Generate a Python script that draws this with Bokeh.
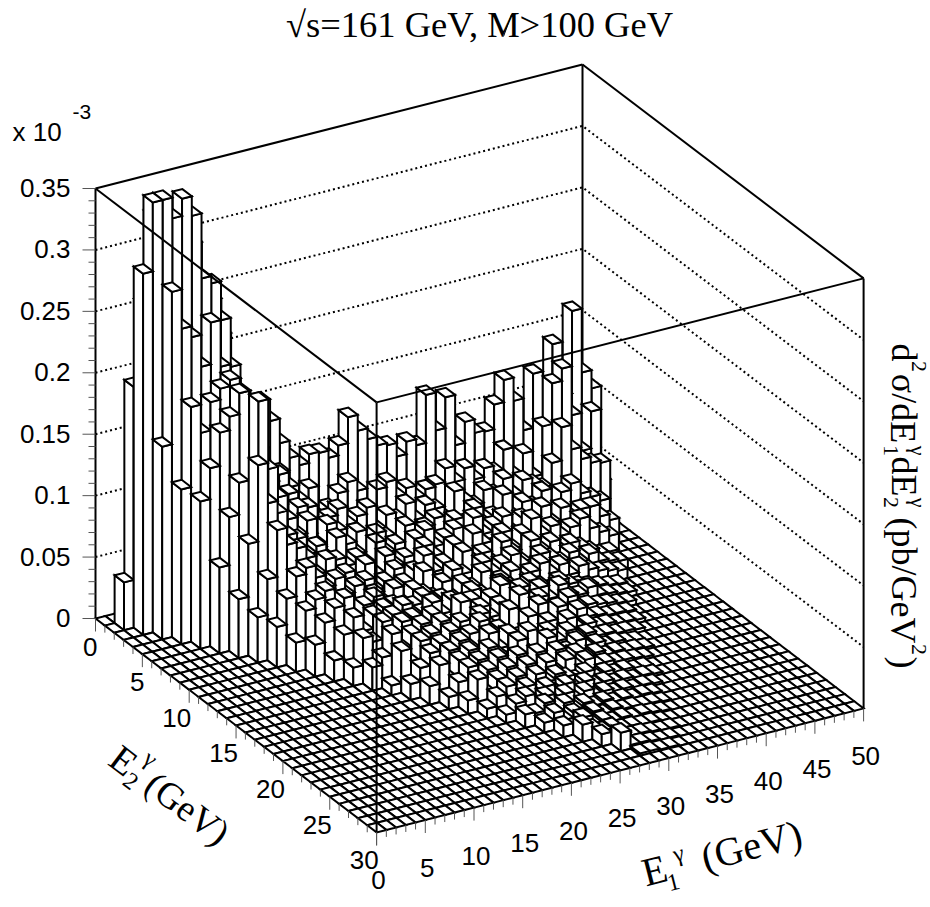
from bokeh.plotting import figure
from bokeh.models import Range1d
from bokeh.core.properties import value
from bokeh.embed import file_html
from bokeh.resources import INLINE

# d2sigma/dE1dE2 in units of 1e-3 pb/GeV^2; each row is one E2 bin (1 GeV wide), first entry is at E1 = E2
E2_01 = [.039,.196,.260,.330,.330,.330,.300,.300,.260,.250,.220,.181,.169,.155,.158,.140,.120,.106,.098,.105,.104,.098,.106,.127,.114,.105,.098,.096,.085,.095,.090,.129,.098,.123,.082,.099,.088,.087,.107,.125,.106,.080,.124,.110,.144,.100,.167,.115,.100]
E2_02 = [.294,.350,.350,.333,.347,.331,.278,.272,.240,.200,.170,.150,.116,.093,.104,.090,.077,.085,.059,.065,.075,.082,.073,.050,.070,.074,.060,.065,.055,.060,.062,.073,.060,.069,.058,.065,.060,.076,.053,.069,.048,.087,.120,.130,.090,.059,.089,.030]
E2_03 = [.157,.281,.249,.240,.214,.248,.210,.190,.170,.150,.125,.105,.110,.085,.075,.070,.060,.065,.070,.055,.060,.065,.045,.055,.050,.060,.045,.055,.050,.040,.060,.050,.045,.055,.050,.060,.045,.055,.050,.045,.063,.090,.070,.060,.055,.053]
E2_04 = [.126,.191,.168,.191,.200,.205,.170,.150,.120,.105,.090,.100,.070,.085,.060,.050,.060,.045,.055,.040,.050,.045,.035,.050,.040,.045,.050,.035,.045,.040,.050,.035,.040,.055,.035,.045,.040,.050,.030,.045,.050,.040,.035,.030]
E2_05 = [.120,.145,.172,.183,.200,.187,.150,.125,.100,.085,.095,.070,.060,.075,.050,.055,.045,.035,.050,.040,.045,.030,.045,.050,.035,.040,.045,.030,.050,.035,.040,.045,.030,.040,.035,.045,.030,.040,.030,.035,.035,.025,.020]
E2_06 = [.070,.109,.135,.108,.197,.140,.115,.095,.080,.090,.065,.055,.070,.045,.050,.040,.030,.045,.035,.040,.030,.045,.035,.025,.040,.030,.045,.035,.030,.040,.025,.035,.045,.030,.035,.025,.030,.035,.025,.020,.015]
E2_07 = [.048,.091,.153,.120,.110,.090,.085,.070,.075,.055,.060,.045,.035,.050,.040,.030,.040,.025,.035,.045,.030,.035,.025,.040,.030,.035,.025,.040,.030,.020,.035,.025,.030,.020,.025,.020,.015,.010,.010]
E2_08 = [.037,.066,.104,.090,.085,.075,.060,.070,.050,.055,.040,.045,.035,.040,.030,.035,.025,.040,.030,.025,.035,.030,.020,.035,.025,.030,.035,.025,.020,.030,.025,.020,.025,.015,.020,.012,.010,.008]
E2_09 = [.033,.054,.070,.075,.065,.055,.060,.045,.050,.035,.040,.030,.040,.025,.035,.030,.025,.035,.020,.030,.025,.035,.020,.025,.030,.020,.025,.030,.020,.025,.015,.020,.015,.012,.010,.008]
E2_10 = [.024,.048,.055,.060,.045,.050,.040,.035,.045,.030,.035,.025,.030,.035,.020,.030,.025,.020,.030,.025,.020,.030,.025,.018,.025,.020,.015,.020,.015,.012,.010,.008,.006,.005]
E2_11 = [.026,.042,.052,.058,.040,.048,.034,.042,.026,.040,.030,.022,.036,.025,.034,.020,.030,.018,.028,.036,.020,.030,.018,.026,.015,.024,.014,.012,.016,.008,.007,.005,.004]
E2_12 = [.017,.036,.048,.035,.046,.030,.042,.025,.036,.020,.034,.025,.020,.038,.018,.030,.020,.028,.016,.032,.015,.026,.015,.012,.020,.010,.010,.008,.007,.005,.004]
E2_13 = [.015,.037,.032,.046,.028,.042,.025,.036,.020,.034,.022,.030,.016,.032,.020,.016,.030,.018,.014,.028,.012,.022,.010,.016,.008,.007,.005,.005,.004]
E2_14 = [.019,.025,.042,.028,.038,.020,.034,.020,.032,.016,.026,.034,.016,.024,.018,.014,.028,.012,.020,.010,.018,.008,.010,.006,.006,.004,.004,.003]
E2_15 = [.008,.034,.022,.038,.020,.032,.018,.030,.022,.015,.030,.016,.026,.014,.024,.012,.020,.010,.016,.008,.010,.006,.006,.004,.004,.003]
E2_16 = [.013,.024,.034,.018,.032,.016,.028,.014,.026,.018,.012,.026,.014,.010,.022,.010,.008,.014,.006,.008,.004,.005,.003,.002]
E2_17 = [.015,.030,.016,.030,.014,.026,.012,.024,.014,.022,.010,.020,.008,.018,.008,.012,.006,.008,.004,.005,.003,.003,.002]
E2_18 = [.010,.020,.030,.012,.024,.012,.022,.010,.020,.010,.018,.008,.016,.008,.012,.006,.006,.004,.004,.003,.002]
E2_19 = [.011,.026,.012,.022,.010,.020,.008,.018,.010,.014,.010,.006,.010,.004,.006,.003,.004,.002,.002]
E2_20 = [.008,.016,.022,.009,.018,.008,.014,.007,.012,.006,.010,.005,.006,.003,.004,.002,.003,.002]
E2_21 = [.007,.014,.018,.008,.014,.006,.012,.005,.010,.004,.006,.003,.004,.002,.003,.002]
E2_22 = [.011,.010,.016,.006,.012,.005,.008,.004,.006,.003,.004,.002,.003,.002]
E2_23 = [.008,.014,.006,.010,.005,.007,.003,.005,.003,.003,.002,.002,.001]
E2_24 = [.0095,.006,.012,.004,.006,.003,.004,.002,.003,.002,.001]
E2_25 = [.014,.009,.005,.006,.003,.003,.002,.002,.001]
E2_26 = [.010,.004,.006,.003,.003,.002,.001,.001]
E2_27 = [.015,.003,.003,.002,.001,.001]
E2_28 = [.002,.002,.001,.001]
ROWS = [E2_01,E2_02,E2_03,E2_04,E2_05,E2_06,E2_07,E2_08,E2_09,E2_10,E2_11,E2_12,E2_13,E2_14,
        E2_15,E2_16,E2_17,E2_18,E2_19,E2_20,E2_21,E2_22,E2_23,E2_24,E2_25,E2_26,E2_27,E2_28]

E1_MAX, E2_MAX, Z_MAX = 50, 30, 0.35
x_ticks = [0,5,10,15,20,25,30,35,40,45,50]
y_ticks = [0,5,10,15,20,25,30]
z_ticks = [0,0.05,0.1,0.15,0.2,0.25,0.3,0.35]
z_labels = ["0","0.05","0.1","0.15","0.2","0.25","0.3","0.35"]

OX, OY = 95.0, 618.0
def proj(x, y, z=0.0):
    return (OX + 9.74*x + 9.37*y, OY - 2.48*x + 7.13*y - z*430/Z_MAX)

p = figure(width=930, height=907, x_range=Range1d(0, 930), y_range=Range1d(907, 0),
           output_backend="svg", toolbar_location=None, min_border=0)
p.axis.visible = False
p.grid.visible = False
p.outline_line_color = None
p.background_fill_color = "white"

def seg(a, b, **kw):
    p.line([a[0], b[0]], [a[1], b[1]], **kw)

LW = 2.0
for z in z_ticks[1:-1]:
    a, b, c = proj(0,0,z), proj(E1_MAX,0,z), proj(E1_MAX,E2_MAX,z)
    p.line([a[0],b[0],c[0]], [a[1],b[1],c[1]], line_color="black", line_width=2, line_dash="2 3")
for a, b in [(proj(0,0,0),proj(0,0,Z_MAX)), (proj(E1_MAX,0,0),proj(E1_MAX,0,Z_MAX)),
             (proj(E1_MAX,E2_MAX,0),proj(E1_MAX,E2_MAX,Z_MAX)),
             (proj(0,0,Z_MAX),proj(E1_MAX,0,Z_MAX)), (proj(E1_MAX,0,Z_MAX),proj(E1_MAX,E2_MAX,Z_MAX))]:
    seg(a, b, line_color="black", line_width=LW)

vals = {}
for j, row in enumerate(ROWS):
    for k, v in enumerate(row):
        vals[(j+1+k, j+1)] = v
xs, ys = [], []
def add(poly):
    xs.append([q[0] for q in poly]); ys.append([q[1] for q in poly])
for j in range(E2_MAX):
    for i in range(E1_MAX-1, -1, -1):
        z = vals.get((i, j), 0.0)
        if z > 0:
            add([proj(i,j,0),proj(i,j+1,0),proj(i,j+1,z),proj(i,j,z)])
            add([proj(i,j+1,0),proj(i+1,j+1,0),proj(i+1,j+1,z),proj(i,j+1,z)])
        add([proj(i,j,z),proj(i,j+1,z),proj(i+1,j+1,z),proj(i+1,j,z)])
p.patches(xs, ys, fill_color="white", line_color="black", line_width=LW, line_join="miter")

for a, b in [(proj(0,0,Z_MAX),proj(0,E2_MAX,Z_MAX)), (proj(0,E2_MAX,Z_MAX),proj(E1_MAX,E2_MAX,Z_MAX)),
             (proj(0,E2_MAX,0),proj(0,E2_MAX,Z_MAX))]:
    seg(a, b, line_color="black", line_width=LW)

TC = "#555555"
for v in range(0, E1_MAX+1):
    a = proj(v, E2_MAX, 0); seg(a, (a[0], a[1]+(13 if v % 5 == 0 else 7)), line_color=TC, line_width=1)
for v in range(0, E2_MAX+1):
    a = proj(0, v, 0); seg(a, (a[0], a[1]+(13 if v % 5 == 0 else 7)), line_color=TC, line_width=1)
for v in range(0, 36):
    a = proj(0, 0, v/100); seg(a, (a[0]-(13 if v % 5 == 0 else 7), a[1]), line_color=TC, line_width=1)

SANS = value("Liberation Sans"); SERIF = value("Liberation Serif")
def label(x, y, t, size, font=SANS, angle=0.0, align="center", base="middle"):
    p.text([x], [y], text=[t], text_font=font, text_font_size=f"{size}px", angle=angle,
           text_align=align, text_baseline=base, text_color="black")

TS = 26
for v in x_ticks:
    a = proj(v, E2_MAX, 0); label(a[0]+2, a[1]+48, str(v), TS)
for v in y_ticks:
    a = proj(0, v, 0); label(a[0]+2, a[1]+28, str(v), TS, align="right")
for v, t in zip(z_ticks, z_labels):
    a = proj(0, 0, v); label(70, a[1]-0.5, t, TS, align="right")
label(12, 131, "x 10", TS, align="left")
label(72, 111, "-3", 21, align="left")

label(479, 24, "√s=161 GeV, M>100 GeV", 36.5, SERIF)
seg((511, 14), (503, 36), line_color="black", line_width=1)

A2 = -0.65
label(123, 760, "E", 38, SERIF, A2)
label(150, 758, "γ", 24, SERIF, A2)
label(130, 781, "2", 24, SERIF, A2)
label(187, 808, "(GeV)", 37, SERIF, A2)
A1 = 0.25
label(654, 870, "E", 40, SERIF, A1)
label(678, 853, "γ", 24, SERIF, A1)
label(673, 882, "1", 24, SERIF, A1)
label(751, 845, "(GeV)", 40, SERIF, A1)
AZ = -1.5708
MZ = 36
label(903, 352, "d", MZ, SERIF, AZ)
label(918, 366, "2", 22, SERIF, AZ)
label(903, 408, "σ/dE", MZ, SERIF, AZ)
label(890, 450, "1", 22, SERIF, AZ)
label(918, 450, "γ", 22, SERIF, AZ)
label(903, 476, "dE", MZ, SERIF, AZ)
label(890, 502, "2", 22, SERIF, AZ)
label(918, 502, "γ", 22, SERIF, AZ)
label(903, 580, "(pb/GeV", MZ, SERIF, AZ)
label(918, 649, "2", 22, SERIF, AZ)
label(903, 662, ")", MZ, SERIF, AZ)

open("out.html", "w").write(file_html(p, INLINE))
